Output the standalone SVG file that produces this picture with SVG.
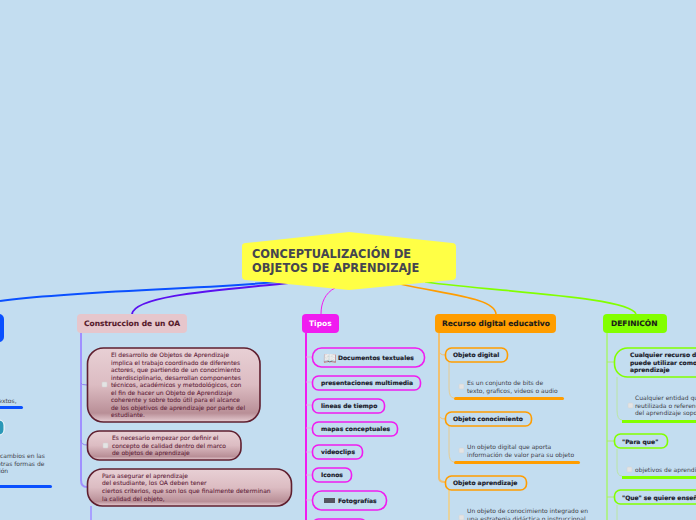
<svg xmlns="http://www.w3.org/2000/svg" width="696" height="520" viewBox="0 0 696 520">
<defs>
<linearGradient id="maroon" x1="0" y1="0" x2="0" y2="1">
<stop offset="0" stop-color="#e8d0d5"/><stop offset="0.5" stop-color="#dcbcc2"/><stop offset="0.88" stop-color="#b98f97"/><stop offset="1" stop-color="#e6ccd2"/>
</linearGradient>
</defs>
<style>
text{font-family:"DejaVu Sans",Verdana,sans-serif;font-size:6px;fill:#404048}
.b{font-weight:bold;fill:#1a1a2a;stroke:#1a1a2a;stroke-width:.15}
.m text,text.m{fill:#62243a;stroke:#62243a;stroke-width:.08}
.h{font-size:7.5px;font-weight:bold;stroke-width:.1}
.r{font-size:11.4px;font-weight:bold;fill:#45454f}
.c{fill:none}
.mn{fill:url(#maroon);stroke:#5f1f2f;stroke-width:1.6}
.ck{fill:#e4e4e4;stroke:#d2d2d2;stroke-width:.5}
.mg{fill:#c3ddf0;stroke:#f01cf0;stroke-width:1.6}
.or{fill:#c3ddf0;stroke:#ff9d00;stroke-width:1.6}
.gr{fill:#c3ddf0;stroke:#82ff00;stroke-width:1.6}
</style>
<rect id="background" width="696" height="520" fill="#c3ddf0"/>
<g id="connectors">
<path class="c" d="M300 280C200 290 80 290 0 301" stroke="#0a50ff" stroke-width="2"/>
<path class="c" d="M300 282C220 290 135 295 132 314" stroke="#5a10f0" stroke-width="2"/>
<path class="c" d="M335 288C325 293 321 303 321 314" stroke="#f01cf0" stroke-width="1"/>
<path class="c" d="M400 284C450 295 495 298 496 314" stroke="#ff9d00" stroke-width="1.6"/>
<path class="c" d="M425 282C500 292 630 297 636 314" stroke="#82ff00" stroke-width="1.6"/>
<path class="c" d="M81 333V480Q81 487 87 487" stroke="#a090ff" stroke-width="2"/>
<path class="c" d="M81 383Q81 385 87 385M81 440Q81 445 87 445" stroke="#9080f0" stroke-width="1"/>
<path class="c" d="M91 506V520" stroke="#a8a0ff" stroke-width="2"/>
<path class="c" d="M306 333V520" stroke="#f01cf0" stroke-width="2"/>
<path class="c" d="M306 357H312M306 382H312M306 405H312M306 428H312M306 452H312M306 475H312M306 500H312" stroke="#f0a0e8" stroke-width=".8"/>
<path class="c" d="M439 333V478Q439 482 445 482" stroke="#f0c070" stroke-width="2"/>
<path class="c" d="M439 350Q439 355 445 355M439 414Q439 419 445 419" stroke="#f0c070" stroke-width="1"/>
<path class="c" d="M449 362V388Q449 398 454 398M449 426V452Q449 462 454 462" stroke="#f0c878" stroke-width=".8"/>
<path class="c" d="M449 490V520" stroke="#f0d088" stroke-width="1.6"/>
<path class="c" d="M607 333V520" stroke="#9aff30" stroke-width="1"/>
<path class="c" d="M607 362H614M607 441H614M607 497H614" stroke="#a8f050" stroke-width=".8"/>
<path class="c" d="M617 377V410Q617 420 622 420M617 449V468Q617 476 622 476M617 505V520" stroke="#b8e890" stroke-width=".8"/>
</g>
<g id="root">
<path d="M242 246Q242 243 246 243L349 232L452 243Q456 243 456 247V276Q456 280 452 280L349 290L246 280Q242 280 242 276Z" fill="#ffff45"/>
<text class="r" x="252" y="258">CONCEPTUALIZACIÓN DE</text>
<text class="r" x="252" y="272">OBJETOS DE APRENDIZAJE</text>
</g>
<g id="left-branch">
<rect x="-20" y="314" width="24" height="28" rx="5" fill="#0a50ff"/>
<text x="-4" y="403">textos,</text>
<rect x="-10" y="406" width="33" height="3" rx="1.500" fill="#0a50ff"/>
<rect x="-10" y="420" width="14" height="15" rx="5" fill="#2a98b8" stroke="#fff" stroke-width="1"/>
<text x="0" y="458">cambios en las</text>
<text x="-3" y="466">otras formas de</text>
<text x="-1" y="473">ión</text>
<rect x="-10" y="485" width="62" height="3" rx="1.500" fill="#0a50ff"/>
</g>
<g id="construccion">
<rect x="77" y="314" width="110" height="19" rx="4" fill="#e6c6cc"/>
<text class="h" x="84" y="326" style="fill:#55182a;stroke:#55182a">Construccion de un OA</text>
</g>
<g id="oa-desarrollo" class="m">
<rect class="mn" x="87.500" y="348" width="172.500" height="74" rx="16"/>
<rect class="ck" x="102" y="382" width="5" height="5" rx="1"/>
<text x="111" y="357">El desarrollo de Objetos de Aprendizaje</text>
<text x="111" y="365">implica el trabajo coordinado de diferentes</text>
<text x="111" y="372">actores, que partiendo de un conocimiento</text>
<text x="111" y="380">interdisciplinario, desarrollan componentes</text>
<text x="111" y="387">técnicos, académicos y metodológicos, con</text>
<text x="111" y="395">el fin de hacer un Objeto de Aprendizaje</text>
<text x="111" y="402">coherente y sobre todo útil para el alcance</text>
<text x="111" y="410">de los objetivos de aprendizaje por parte del</text>
<text x="111" y="417">estudiante.</text>
</g>
<g id="oa-calidad" class="m">
<rect class="mn" x="87.500" y="431" width="153.500" height="29" rx="12"/>
<rect class="ck" x="103" y="443" width="5" height="5" rx="1"/>
<text x="112" y="440">Es necesario empezar por definir el</text>
<text x="112" y="448">concepto de calidad dentro del marco</text>
<text x="112" y="455">de objetos de aprendizaje</text>
</g>
<g id="oa-criterios" class="m">
<rect class="mn" x="87.500" y="469" width="204" height="37" rx="15"/>
<text x="102" y="478">Para asegurar el aprendizaje</text>
<text x="102" y="485">del estudiante, los OA deben tener</text>
<text x="102" y="493">ciertos criterios, que son los que finalmente determinan</text>
<text x="102" y="501">la calidad del objeto,</text>
</g>
<g id="tipos">
<rect x="302" y="314" width="37" height="19" rx="4" fill="#f01cf0"/>
<text class="h" x="309" y="326" style="fill:#fff">Tipos</text>
</g>
<g id="t1"><rect class="mg" x="312.500" y="348" width="112" height="19" rx="9"/><text class="b" x="338" y="360">Documentos textuales</text><text x="323" y="362" style="font-size:11px;fill:#8aa0b0">📖</text></g>
<g id="t2"><rect class="mg" x="312.500" y="376" width="108" height="14" rx="6"/><text class="b" x="321" y="385">presentaciones multimedia</text></g>
<g id="t3"><rect class="mg" x="312.500" y="399" width="72" height="14" rx="6"/><text class="b" x="321" y="408">lineas de tiempo</text></g>
<g id="t4"><rect class="mg" x="312.500" y="422" width="85" height="14" rx="6"/><text class="b" x="321" y="431">mapas conceptuales</text></g>
<g id="t5"><rect class="mg" x="312.500" y="445" width="50" height="14" rx="6"/><text class="b" x="321" y="454">videoclips</text></g>
<g id="t6"><rect class="mg" x="312.500" y="468" width="39" height="14" rx="6"/><text class="b" x="321" y="477">Iconos</text></g>
<g id="t7"><rect class="mg" x="312.500" y="491" width="74" height="19" rx="9"/><rect x="324" y="498" width="11" height="5" fill="#555560"/><text class="b" x="338" y="503">Fotografías</text></g>
<g id="t8"><rect class="mg" x="312.500" y="519" width="54" height="12" rx="6"/></g>
<g id="recurso">
<rect x="435" y="314" width="121" height="19" rx="4" fill="#ff9d00"/>
<text class="h" x="442" y="326" style="fill:#1a1a1a;stroke:#1a1a1a">Recurso digital educativo</text>
</g>
<g id="r1"><rect class="or" x="445.500" y="348" width="62" height="14" rx="6"/><text class="b" x="453" y="357">Objeto digital</text></g>
<g id="r1a"><rect class="ck" x="459" y="384" width="5" height="5" rx="1"/><text x="467" y="385">Es un conjunto de bits de</text><text x="467" y="393">texto, graficos, videos o audio</text><rect x="454" y="397" width="110" height="3" rx="1.500" fill="#ff9d00"/></g>
<g id="r2"><rect class="or" x="445.500" y="412" width="86" height="14" rx="6"/><text class="b" x="453" y="421">Objeto conocimiento</text></g>
<g id="r2a"><rect class="ck" x="459" y="448" width="5" height="5" rx="1"/><text x="467" y="449">Un objeto digital que aporta</text><text x="467" y="457">información de valor para su objeto</text><rect x="454" y="461" width="126" height="3" rx="1.500" fill="#ff9d00"/></g>
<g id="r3"><rect class="or" x="445.500" y="476" width="81" height="14" rx="6"/><text class="b" x="453" y="485">Objeto aprendizaje</text></g>
<g id="r3a"><rect class="ck" x="459" y="515" width="5" height="5" rx="1"/><text x="467" y="513">Un objeto de conocimiento integrado en</text><text x="467" y="521">una estrategia didáctica o instruccional</text></g>
<g id="definicion">
<rect x="603" y="314" width="64" height="19" rx="4" fill="#82ff00"/>
<text class="h" x="611" y="326" style="fill:#1a1a1a;stroke:#1a1a1a">DEFINICÓN</text>
</g>
<g id="d1"><rect class="gr" x="614.500" y="348" width="110" height="29" rx="13"/><text class="b" x="630" y="357">Cualquier recurso digital que</text><text class="b" x="630" y="365">puede utilizar como apoyo al</text><text class="b" x="630" y="372">aprendizaje</text></g>
<g id="d1a"><rect class="ck" x="628" y="403" width="5" height="5" rx="1"/><text x="635" y="400">Cualquier entidad que</text><text x="635" y="408">reutilizada o referenciada</text><text x="635" y="415">del aprendizaje soportado</text><rect x="622" y="420" width="90" height="3" fill="#82ff00"/></g>
<g id="d2"><rect class="gr" x="614.500" y="434" width="53" height="14" rx="6"/><text class="b" x="622" y="444">"Para que"</text></g>
<g id="d2a"><rect class="ck" x="627" y="467" width="5" height="5" rx="1"/><text x="635" y="472">objetivos de aprendizaje</text><rect x="622" y="476" width="90" height="3" fill="#82ff00"/></g>
<g id="d3"><rect class="gr" x="614.500" y="490" width="100" height="14" rx="6"/><text class="b" x="622" y="500">"Que" se quiere enseñar</text></g>
</svg>
